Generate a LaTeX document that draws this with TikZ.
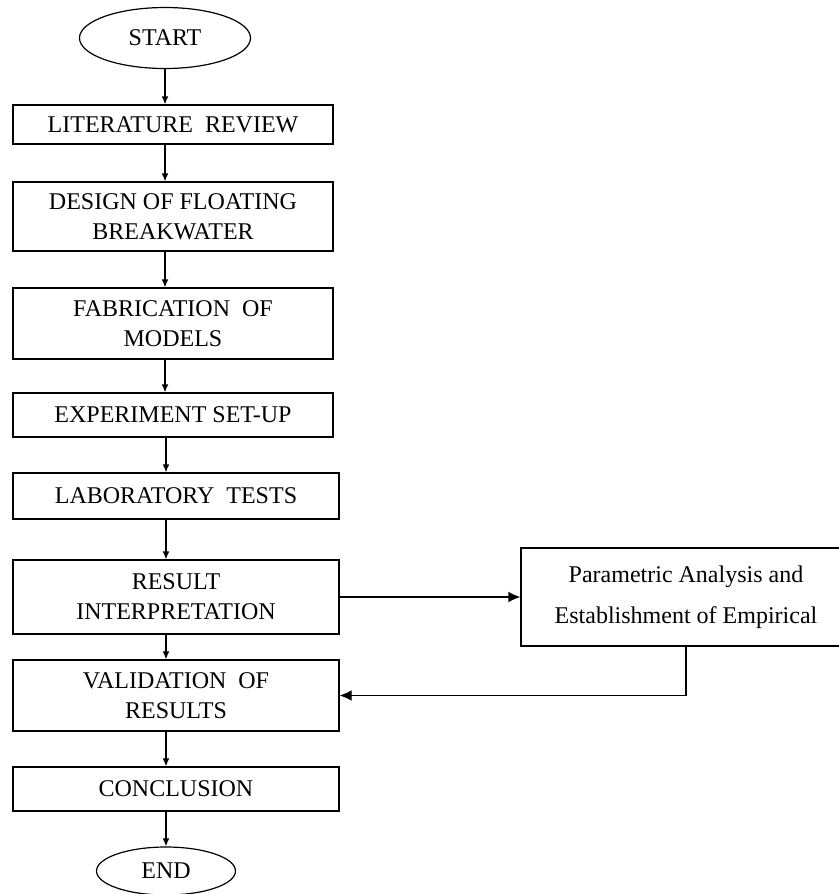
\documentclass[tikz,border=0pt]{standalone}
\usepackage{fontspec}
\setmainfont{Liberation Serif}
\usetikzlibrary{shapes.geometric,arrows.meta}

\begin{document}
\begin{tikzpicture}[x=0.75pt,y=0.75pt,yscale=-1,xscale=1,
  box/.style={draw,line width=0.9pt,rectangle,align=center,inner sep=0.75pt,font=\fontsize{18}{22.5}\selectfont},
  term/.style={draw,line width=0.9pt,ellipse,inner sep=0.75pt,font=\fontsize{18}{22.5}\selectfont},
  flow/.style={line width=0.9pt,-{Latex[length=6pt,width=5pt]}},
  bigflow/.style={line width=0.9pt,-{Latex[length=9pt,width=8pt]}}]
%set diagram area: 839 x 894
\clip (0,0) rectangle (839,894);

% Terminals
\node [term,minimum width=128.25pt,minimum height=45.75pt] (start) at (165,38) {START};
\node [term,minimum width=104.25pt,minimum height=36pt] (end) at (166,871) {END};

% Main column
\node [box,minimum width=240pt,minimum height=29.25pt] (lit) at (173,124.5) {LITERATURE~~REVIEW};
\node [box,minimum width=240pt,minimum height=51.75pt] (design) at (173,216.5) {DESIGN OF FLOATING\\BREAKWATER};
\node [box,minimum width=240pt,minimum height=53.25pt] (fab) at (173,323.5) {FABRICATION~~OF\\MODELS};
\node [box,minimum width=240pt,minimum height=33pt] (exp) at (173,415) {EXPERIMENT SET-UP};
\node [box,minimum width=244.5pt,minimum height=34.5pt] (lab) at (176,496) {LABORATORY~~TESTS};
\node [box,minimum width=244.5pt,minimum height=55.5pt] (interp) at (176,597) {RESULT\\INTERPRETATION};
\node [box,minimum width=244.5pt,minimum height=53.25pt] (valid) at (176,695.5) {VALIDATION~~OF\\RESULTS};
\node [box,minimum width=244.5pt,minimum height=33pt] (concl) at (176,789) {CONCLUSION};

% Side box
\node [box,font=\fontsize{18}{30.75}\selectfont,minimum width=247.5pt,minimum height=73.5pt] (param) at (686,597) {Parametric Analysis and\\Establishment of Empirical};

% Connectors
\draw [flow] (start) -- (start |- lit.north);
\draw [flow] (lit.south -| start) -- (design.north -| start);
\draw [flow] (design.south -| start) -- (fab.north -| start);
\draw [flow] (fab.south -| start) -- (exp.north -| start);
\draw [flow] (exp.south -| end) -- (lab.north -| end);
\draw [flow] (lab.south -| end) -- (interp.north -| end);
\draw [flow] (interp.south -| end) -- (valid.north -| end);
\draw [flow] (valid.south -| end) -- (concl.north -| end);
\draw [flow] (concl.south -| end) -- (end);
\draw [bigflow] (interp) -- (param);
\draw [bigflow] (param.south) |- (valid.east);

\end{tikzpicture}
\end{document}
